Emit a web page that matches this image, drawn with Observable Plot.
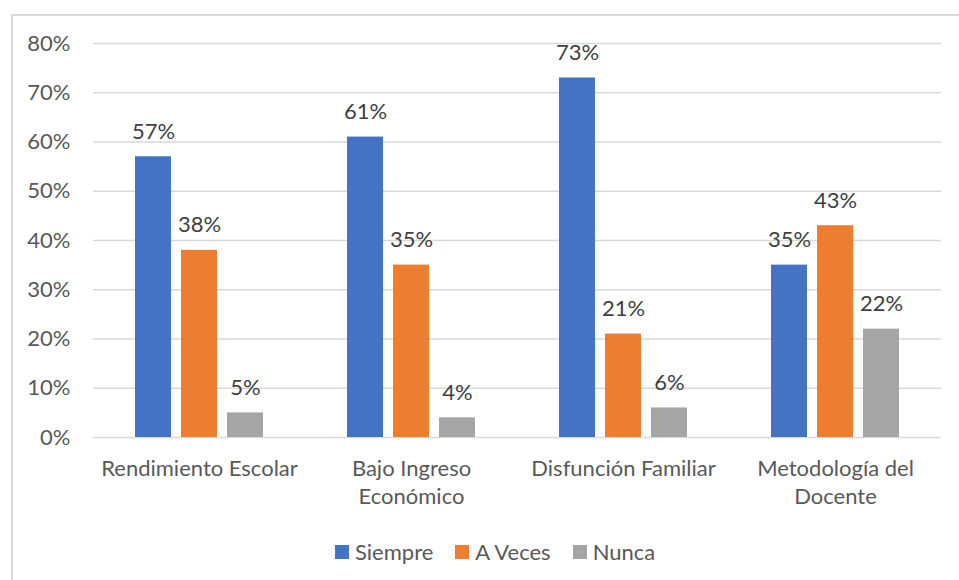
<!DOCTYPE html>
<html>
<head>
<meta charset="utf-8">
<script src="https://cdn.jsdelivr.net/npm/d3@7"></script>
<script src="https://cdn.jsdelivr.net/npm/@observablehq/plot@0.6"></script>
<style>
  html, body { margin: 0; padding: 0; background: #fff; overflow: hidden; }
  body { width: 959px; height: 580px; position: relative; font-family: Lato, "Open Sans", sans-serif; }
  #frame { position: absolute; left: 11px; top: 14px; width: 1000px; height: 700px; border: 2px solid #d9d9d9; box-sizing: border-box; }
  #chart { position: absolute; left: 0; top: 0; }
  #legend { position: absolute; left: 335px; top: 539px; display: flex; align-items: center; font-size: 22px; line-height: 26px; color: #595959; white-space: nowrap; }
  .item { display: flex; align-items: center; margin-right: 22px; }
  .sw { width: 14px; height: 14px; margin-right: 6px; }
</style>
</head>
<body>
<div id="frame"></div>
<div id="chart"></div>
<div id="legend"></div>
<script>
const categories = ["Rendimiento Escolar", "Bajo Ingreso Económico", "Disfunción Familiar", "Metodología del Docente"];
const categoryLabels = ["Rendimiento Escolar", "Bajo Ingreso\nEconómico", "Disfunción Familiar", "Metodología del\nDocente"];
const series = ["Siempre", "A Veces", "Nunca"];
const colors = ["#4472C4", "#ED7D31", "#A5A5A5"];
const siempre = [57, 61, 73, 35];
const aVeces = [38, 35, 21, 43];
const nunca = [5, 4, 6, 22];
const yTicks = [0, 10, 20, 30, 40, 50, 60, 70, 80];

const seriesValues = [siempre, aVeces, nunca];
const data = [];
categories.forEach((c, i) => {
  series.forEach((s, j) => data.push({category: c, series: s, value: seriesValues[j][i]}));
});
const labelData = categories.map((c, i) => ({category: c, label: categoryLabels[i]}));

const chart = Plot.plot({
  width: 959,
  height: 580,
  marginLeft: 92,
  marginRight: 17,
  marginTop: 43,
  marginBottom: 143,
  style: {fontFamily: "Lato, 'Open Sans', sans-serif", fontSize: "22px", color: "#595959", background: "transparent", overflow: "visible"},
  fx: {domain: categories, padding: 0, axis: null},
  x: {domain: series, paddingInner: 0.2128, paddingOuter: 0.867, axis: null},
  y: {domain: [0, 80], ticks: yTicks, tickFormat: d => d + "%", tickSize: 0, tickPadding: 23, label: null},
  color: {domain: series, range: colors},
  marks: [
    Plot.ruleY(yTicks, {y: d => d, stroke: "#d9d9d9", strokeWidth: 1.5}),
    Plot.barY(data, {fx: "category", x: "series", y: "value", fill: "series"}),
    Plot.text(data, {fx: "category", x: "series", y: "value", text: d => d.value + "%", lineAnchor: "bottom", dy: -18, fill: "#404040", fontSize: 22}),
    Plot.text(labelData, {fx: "category", text: "label", frameAnchor: "bottom", lineAnchor: "top", dy: 18, lineHeight: 1.3, fill: "#595959", fontSize: 22})
  ]
});
document.getElementById("chart").appendChild(chart);

const legend = document.getElementById("legend");
series.forEach((s, i) => {
  const item = document.createElement("div");
  item.className = "item";
  const sw = document.createElement("div");
  sw.className = "sw";
  sw.style.background = colors[i];
  const t = document.createElement("span");
  t.textContent = s;
  item.appendChild(sw);
  item.appendChild(t);
  legend.appendChild(item);
});
</script>
</body>
</html>
